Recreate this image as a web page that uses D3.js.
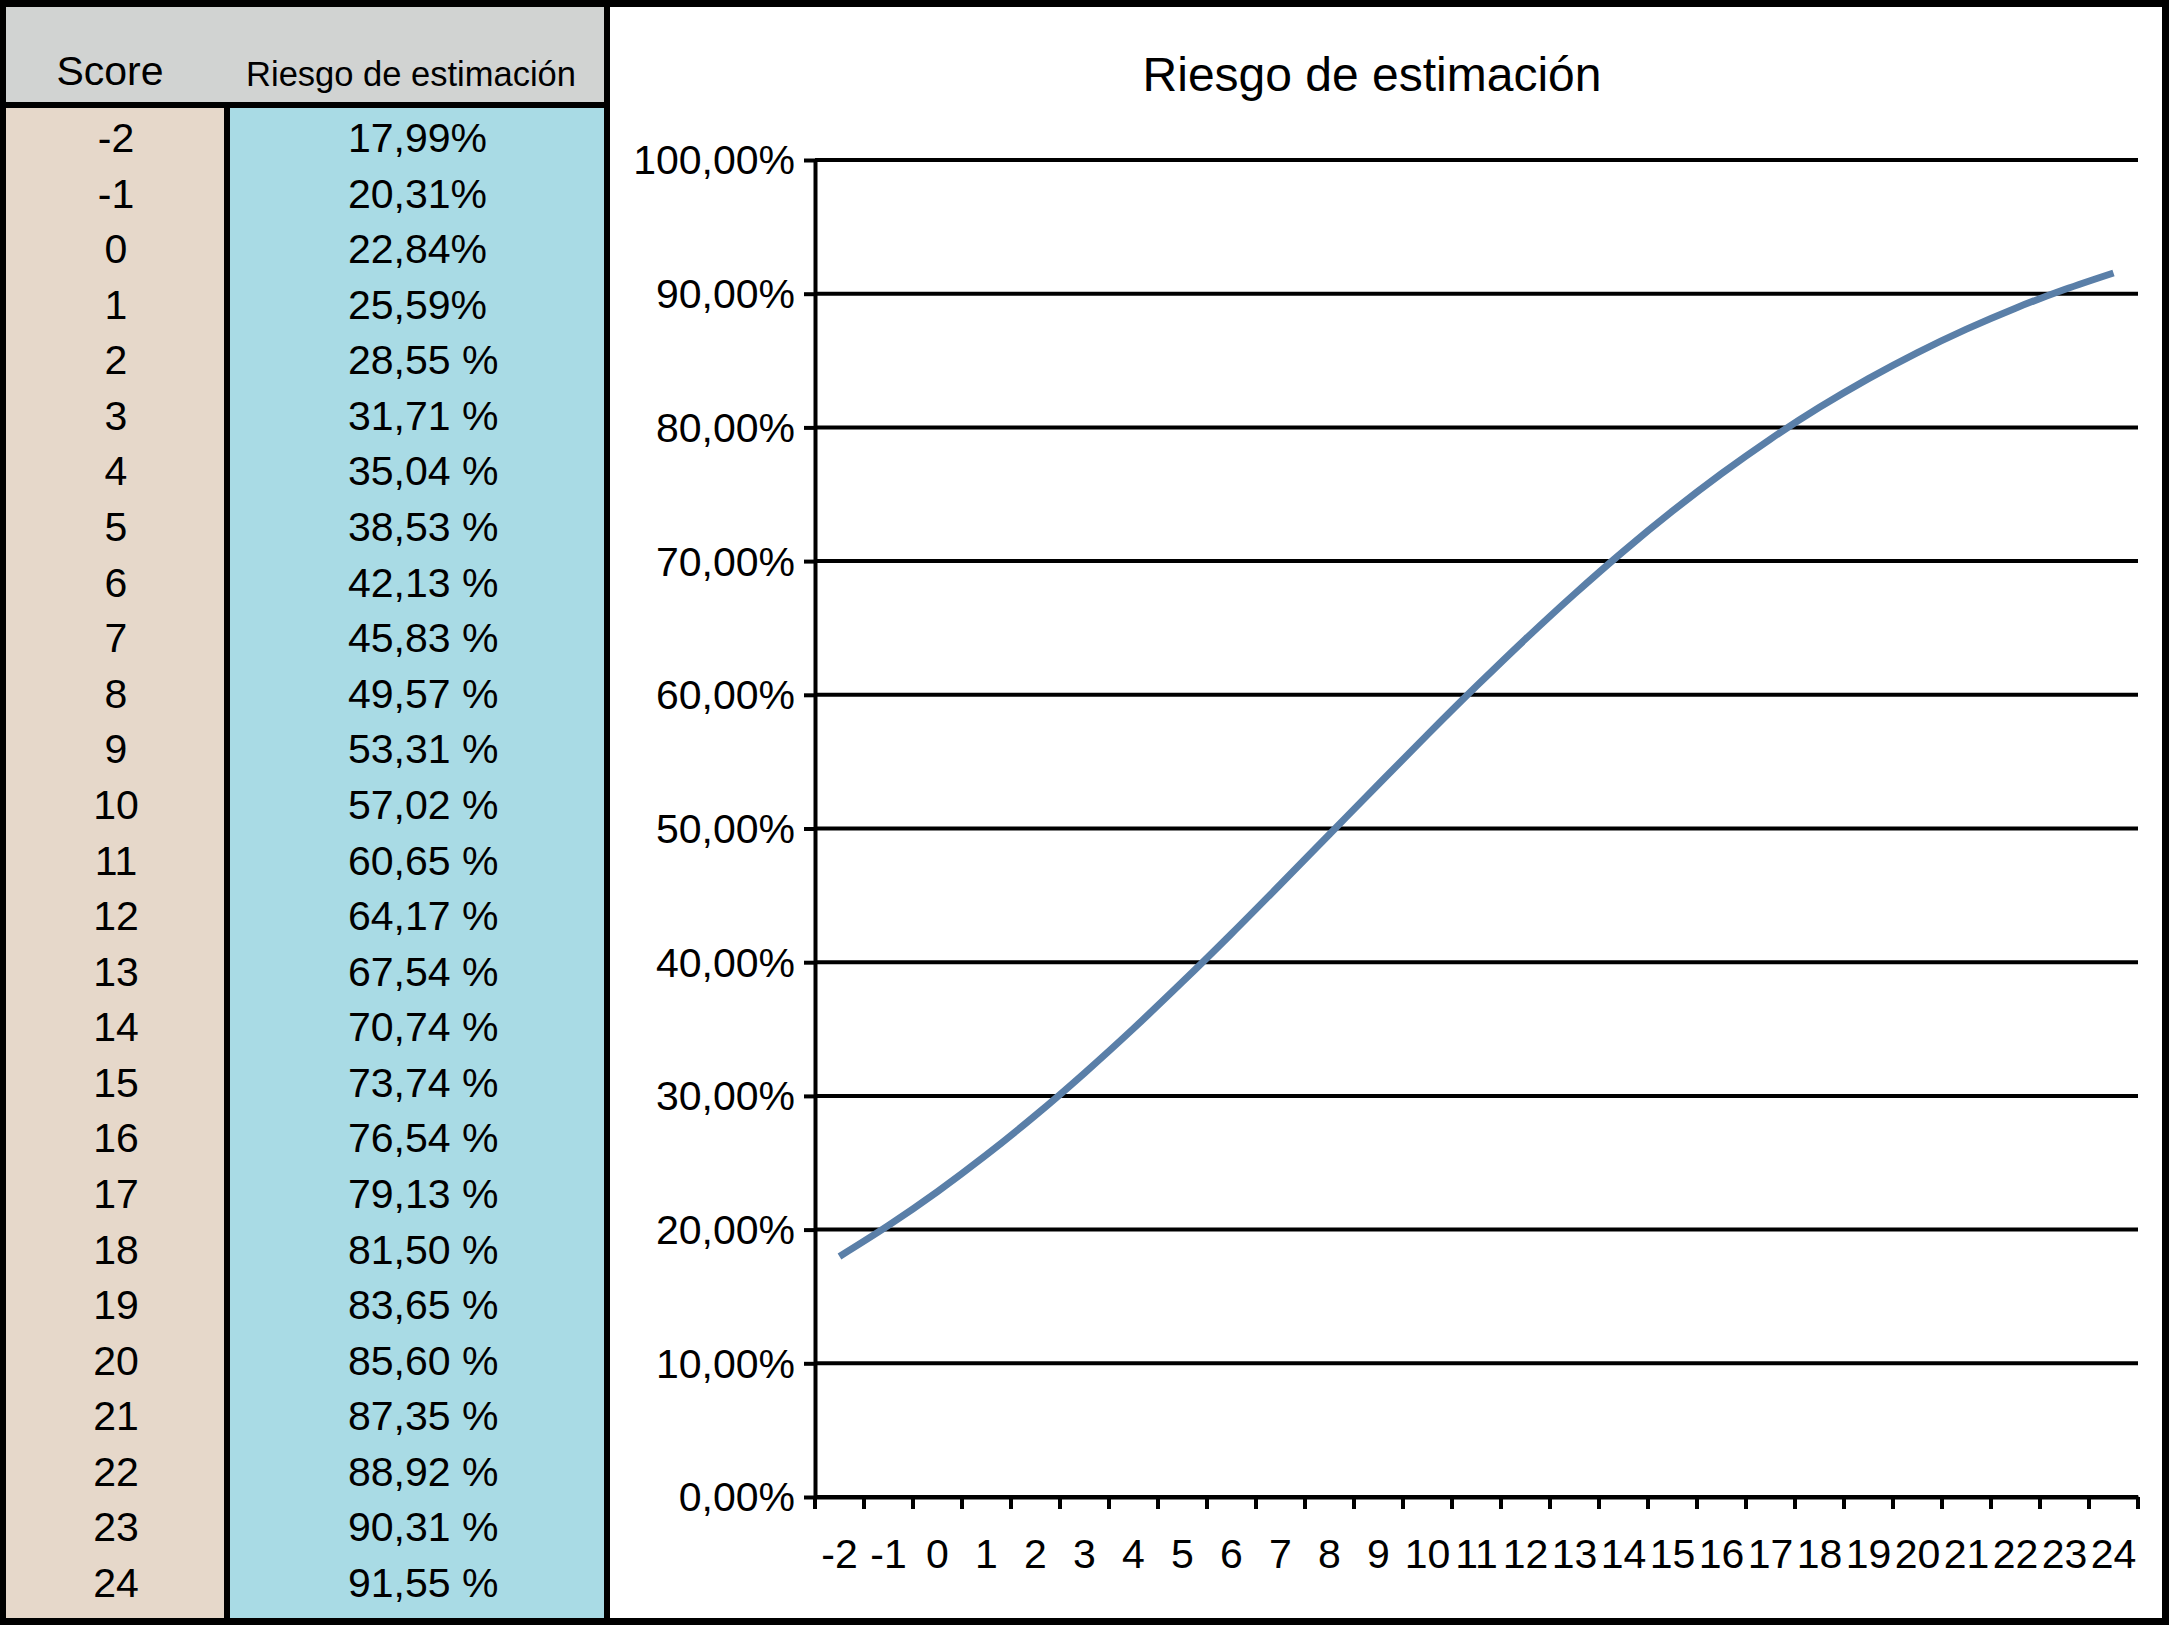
<!DOCTYPE html>
<html>
<head>
<meta charset="utf-8">
<script src="https://cdn.jsdelivr.net/npm/d3@7"></script>
<style>
  html, body { margin: 0; padding: 0; background: #fff; }
  svg { display: block; }
  text { font-family: "Liberation Sans", Arial, Helvetica, sans-serif; fill: #000; }
</style>
</head>
<body>
<div id="chart"></div>
<script>
// Riesgo de estimación — table of scores + smoothed line chart

var scores = [-2, -1, 0, 1, 2, 3, 4, 5, 6, 7, 8, 9, 10, 11, 12, 13, 14, 15, 16, 17, 18, 19, 20, 21, 22, 23, 24];
var riesgo = [17.99, 20.31, 22.84, 25.59, 28.55, 31.71, 35.04, 38.53, 42.13, 45.83, 49.57, 53.31, 57.02,
              60.65, 64.17, 67.54, 70.74, 73.74, 76.54, 79.13, 81.50, 83.65, 85.60, 87.35, 88.92, 90.31, 91.55];
var riesgoLabels = ['17,99%', '20,31%', '22,84%', '25,59%', '28,55 %', '31,71 %', '35,04 %', '38,53 %',
                    '42,13 %', '45,83 %', '49,57 %', '53,31 %', '57,02 %', '60,65 %', '64,17 %', '67,54 %',
                    '70,74 %', '73,74 %', '76,54 %', '79,13 %', '81,50 %', '83,65 %', '85,60 %', '87,35 %',
                    '88,92 %', '90,31 %', '91,55 %'];
var yTicks = [0, 10, 20, 30, 40, 50, 60, 70, 80, 90, 100];
var yTickLabels = ['0,00%', '10,00%', '20,00%', '30,00%', '40,00%', '50,00%', '60,00%', '70,00%', '80,00%', '90,00%', '100,00%'];
var headers = ['Score', 'Riesgo de estimación'];
var title = 'Riesgo de estimación';

var W = 2169, H = 1625;
var svg = d3.select('#chart').append('svg').attr('width', W).attr('height', H);

// outer black frame
svg.append('rect').attr('x', 0).attr('y', 0).attr('width', W).attr('height', H).attr('fill', '#000');

// ---- table ----
var tb = { left: 6, sep: 224, sepW: 6, right: 604, top: 7, headBottom: 102, bodyTop: 108, bottom: 1618 };

svg.append('rect').attr('x', tb.left).attr('y', tb.top)
  .attr('width', tb.right - tb.left).attr('height', tb.headBottom - tb.top).attr('fill', '#d1d3d2');
svg.append('rect').attr('x', tb.left).attr('y', tb.bodyTop)
  .attr('width', tb.sep - tb.left).attr('height', tb.bottom - tb.bodyTop).attr('fill', '#e6d8ca');
svg.append('rect').attr('x', tb.sep + tb.sepW).attr('y', tb.bodyTop)
  .attr('width', tb.right - tb.sep - tb.sepW).attr('height', tb.bottom - tb.bodyTop).attr('fill', '#a9dbe5');

svg.append('text').attr('x', 110).attr('y', 85).attr('text-anchor', 'middle')
  .attr('font-size', 41).text(headers[0]);
svg.append('text').attr('x', 411).attr('y', 86).attr('text-anchor', 'middle')
  .attr('font-size', 34.5).text(headers[1]);

var rowY = d3.scalePoint().domain(scores).range([152, 1597]);

svg.append('g').selectAll('text')
  .data(scores)
  .join('text')
  .attr('x', 116)
  .attr('y', function (d) { return rowY(d); })
  .attr('text-anchor', 'middle')
  .attr('font-size', 41)
  .text(function (d) { return d; });

svg.append('g').selectAll('text')
  .data(riesgoLabels)
  .join('text')
  .attr('x', 348)
  .attr('y', function (d, i) { return rowY(scores[i]); })
  .attr('font-size', 41)
  .text(function (d) { return d; });

// ---- chart ----
svg.append('rect').attr('x', 610).attr('y', 7).attr('width', 2162 - 610).attr('height', 1618 - 7).attr('fill', '#fff');

svg.append('text').attr('x', 1372).attr('y', 91).attr('text-anchor', 'middle')
  .attr('font-size', 48).text(title);

var plot = { left: 815, right: 2138, top: 160, bottom: 1497 };

var x = d3.scaleBand().domain(scores).range([plot.left, plot.right]).padding(0);
var y = d3.scaleLinear().domain([0, 100]).range([plot.bottom, plot.top]);

// horizontal gridlines
svg.append('g').selectAll('line')
  .data(yTicks)
  .join('line')
  .attr('x1', plot.left).attr('x2', plot.right)
  .attr('y1', function (d) { return y(d); })
  .attr('y2', function (d) { return y(d); })
  .attr('stroke', '#000').attr('stroke-width', 4);

// y axis
var yAxis = svg.append('g')
  .attr('transform', 'translate(' + plot.left + ',0)')
  .call(d3.axisLeft(y).tickValues(yTicks).tickSize(11).tickSizeOuter(0).tickPadding(9)
    .tickFormat(function (d, i) { return yTickLabels[i]; }));
yAxis.select('.domain').attr('stroke', '#000').attr('stroke-width', 4);
yAxis.selectAll('.tick line').attr('stroke', '#000').attr('stroke-width', 4);
yAxis.selectAll('.tick text').attr('font-size', 41).attr('font-family', null).attr('dy', '0.34em');

// x axis: labels centered in bands, ticks at band edges
var xAxis = svg.append('g')
  .attr('transform', 'translate(0,' + plot.bottom + ')')
  .call(d3.axisBottom(x).tickSize(0).tickSizeOuter(0).tickPadding(42));
xAxis.select('.domain').attr('stroke', '#000').attr('stroke-width', 4);
xAxis.selectAll('.tick text').attr('font-size', 41).attr('font-family', null);

var edges = scores.map(function (d) { return x(d); }).concat([x.range()[1]]);
svg.append('g').selectAll('line')
  .data(edges)
  .join('line')
  .attr('x1', function (d) { return d; }).attr('x2', function (d) { return d; })
  .attr('y1', plot.bottom).attr('y2', plot.bottom + 12)
  .attr('stroke', '#000').attr('stroke-width', 4);

// smoothed series line
var line = d3.line()
  .x(function (d, i) { return x(scores[i]) + x.bandwidth() / 2; })
  .y(function (d) { return y(d); })
  .curve(d3.curveCatmullRom.alpha(0.5));

svg.append('path')
  .datum(riesgo)
  .attr('d', line)
  .attr('fill', 'none')
  .attr('stroke', '#5a7fa8')
  .attr('stroke-width', 7);
</script>
</body>
</html>
